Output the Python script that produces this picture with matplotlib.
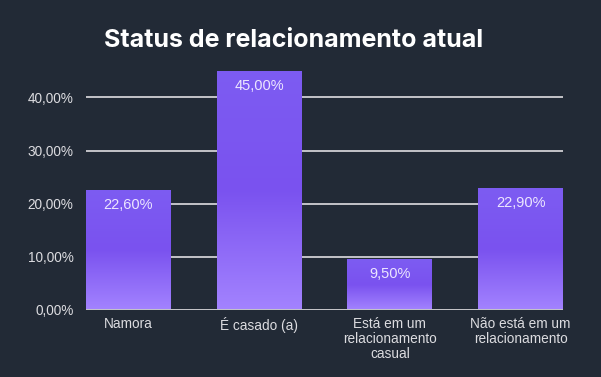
import matplotlib
matplotlib.use("Agg")
import matplotlib.pyplot as plt
import numpy as np
from matplotlib.colors import LinearSegmentedColormap

categories = ["Namora", "É casado (a)", "Está em um\nrelacionamento\ncasual", "Não está em um\nrelacionamento"]
values = [22.6, 45.0, 9.5, 22.9]
value_labels = ["22,60%", "45,00%", "9,50%", "22,90%"]
yticks = [0, 10, 20, 30, 40]
ytick_labels = ["0,00%", "10,00%", "20,00%", "30,00%", "40,00%"]
title = "Status de relacionamento atual"

bg = "#222a36"
fig = plt.figure(figsize=(6.01, 3.77), dpi=100, facecolor=bg)
ax = fig.add_axes([0.143, 0.178, 0.794, 0.634], facecolor=bg)

x = np.arange(len(categories))
width = 0.65
bars = ax.bar(x, values, width=width, color="none", edgecolor="none", zorder=3)

cmap = LinearSegmentedColormap.from_list("g", ["#a383ff", "#7a52ef", "#7d5cf2"])
grad = np.linspace(0, 1, 256).reshape(-1, 1)
for b in bars:
    x0, y0 = b.get_x(), b.get_y()
    w, h = b.get_width(), b.get_height()
    im = ax.imshow(grad, cmap=cmap, origin="lower", aspect="auto",
                   extent=[x0, x0 + w, y0, y0 + h], zorder=3)
    im.set_clip_path(b)

for b, lab in zip(bars, value_labels):
    ax.annotate(lab, (b.get_x() + b.get_width() / 2, b.get_height()),
                xytext=(0, -8), textcoords="offset pixels", ha="center", va="top",
                color="#ece6ff", fontsize=10.5, family="Liberation Sans", zorder=5)

ax.set_xlim(-0.325, 3.325)
ax.set_ylim(0, 45)
ax.set_yticks(yticks)
ax.set_yticklabels(ytick_labels)
ax.set_xticks(x)
ax.set_xticklabels(categories)
ax.tick_params(axis="both", length=0, colors="#dcdce0", labelsize=9.8)
ax.tick_params(axis="y", pad=9)
ax.tick_params(axis="x", pad=5)
for lab in ax.get_xticklabels() + ax.get_yticklabels():
    lab.set_family("Liberation Sans")
for lab in ax.get_xticklabels():
    lab.set_linespacing(1.1)

ax.grid(axis="y", color="#c4c4c8", linewidth=1.4, zorder=1)
ax.set_axisbelow(True)
for s in ax.spines.values():
    s.set_visible(False)
ax.axhline(0, color="#c4c4c8", linewidth=1.4, zorder=4)

fig.text(0.489, 0.893, title, ha="center", va="center", color="white",
         fontsize=18, fontweight="bold", family="Inter")

fig.savefig("out.png", dpi=100, facecolor=bg)
